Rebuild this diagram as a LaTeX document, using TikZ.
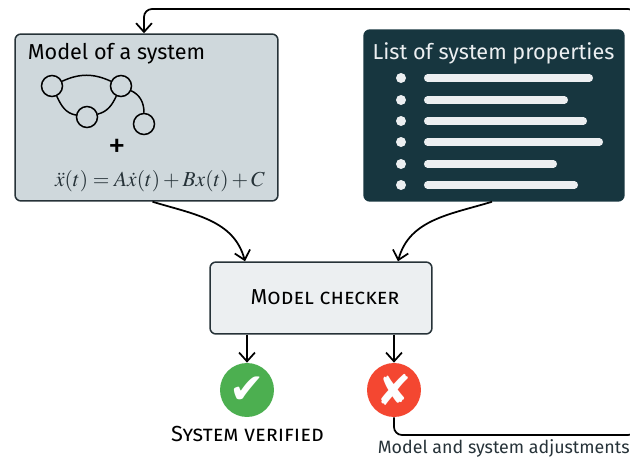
\documentclass[tikz,border=0pt]{standalone}
\usepackage{mathptmx}
\usepackage{fontspec}
\setmainfont{Fira Sans}
\newfontfamily\symbolfont{DejaVu Sans}
\usetikzlibrary{arrows.meta}
\definecolor{boxgray}{HTML}{CFD8DC}
\definecolor{boxdark}{HTML}{17363F}
\definecolor{boxlight}{HTML}{ECEFF1}
\definecolor{linedark}{HTML}{263238}
\definecolor{okgreen}{HTML}{4CAF50}
\definecolor{badred}{HTML}{F44731}
\tikzset{
	card/.style={draw=linedark,line width=0.85pt,rounded corners=0.12cm,inner sep=0pt},
	state/.style={draw=black,line width=0.85pt,circle,minimum size=0.42cm,inner sep=0pt},
	verdict/.style={circle,minimum size=1.08cm,inner sep=0pt,text=white!92!boxlight,font=\symbolfont\fontsize{24}{24}\selectfont},
	flow/.style={->,>={Straight Barb[length=5pt,width=9pt]},line width=1pt,black},
	bar/.style={line width=4pt,line cap=round,color=boxlight}
}
\begin{document}
\begin{tikzpicture}[x=0.02cm,y=0.02cm]
	\useasboundingbox (0,0) rectangle (630,458);

	\node[card,fill=boxgray,minimum width=5.26cm,minimum height=3.34cm] (model) at (146.5,340.5) {};
	\node[card,draw=boxdark,fill=boxdark,minimum width=5.2cm,minimum height=3.42cm] (list) at (494,342.5) {};
	\node[card,fill=boxlight,minimum width=4.44cm,minimum height=1.44cm] (checker) at (321,160) {};

	\node[anchor=west,inner sep=0pt,font=\fontsize{12.3}{14}\selectfont,text=black] (modeltitle) at (27.5,404.5) {Model of a system};
	\node[inner sep=0pt,font=\fontsize{12.3}{14}\selectfont,text=boxlight] (listtitle) at (493.5,404.5) {List of system properties};
	\node[inner sep=0pt,font=\fontsize{12.3}{14}\selectfont] (checkertitle) at (325,161) {\textsc{Model checker}};

	\node[state] (a) at (52,372) {};
	\node[state] (b) at (121,372) {};
	\node[state] (c) at (87,341) {};
	\node[state] (d) at (144,334) {};
	\draw[line width=0.85pt] (a) to[out=25,in=155] (b);
	\draw[line width=0.85pt] (a) to[out=-65,in=170] (c);
	\draw[line width=0.85pt] (c) to[out=15,in=-115] (b);
	\draw[line width=0.85pt] (b) to[out=-25,in=90] (d);
	\node[inner sep=0pt,font=\fontsize{20}{20}\selectfont] (plus) at (117,309.5) {+};
	\node[inner sep=0pt,text=linedark,font=\fontsize{12.15}{13}\selectfont] (equation) at (160,276.5) {$\ddot{x}(t) = A\dot{x}(t) + Bx(t) + C$};

	\foreach \y/\xend in {380/589.5,358/564.5,337/583.5,316/599.5,294/553.5,273/574.5}{
		\fill[boxlight] (401,\y) circle (5);
		\draw[bar] (427.5,\y) -- (\xend,\y);
	}

	\node[verdict,fill=okgreen] (verified) at (247,68) {✔};
	\node[verdict,fill=badred] (failed) at (394,68) {✘};
	\node[inner sep=0pt,font=\fontsize{12.4}{14}\selectfont] (verifiedtext) at (247.5,24) {\textsc{System verified}};
	\node[anchor=east,inner sep=0pt,font=\fontsize{10.15}{12}\selectfont,text=linedark] (adjusttext) at (630,10) {Model and system adjustments};

	\coordinate (modelout) at ([xshift=0.12cm]model.south);
	\coordinate (listout) at ([xshift=-0.04cm]list.south);
	\coordinate (inleft) at ([xshift=-1.52cm]checker.north);
	\coordinate (inright) at ([xshift=1.54cm]checker.north);
	\coordinate (backin) at ([xshift=-0.05cm]model.north);
	\coordinate (cornerA) at (failed.south |- 0,23);
	\coordinate (cornerB) at (636,23);
	\coordinate (cornerC) at (636,449);
	\coordinate (cornerD) at (backin |- 0,449);

	\draw[flow] (modelout) to[out=-17,in=105] (inleft);
	\draw[flow] (listout) to[out=197,in=75] (inright);
	\draw[flow] (checker.south -| verified.north) -- (verified.north);
	\draw[flow] (checker.south -| failed.north) -- (failed.north);
	\draw[flow,rounded corners=0.16cm] (failed.south) -- (cornerA) -- (cornerB) -- (cornerC) -- (cornerD) -- (backin);
\end{tikzpicture}
\end{document}
